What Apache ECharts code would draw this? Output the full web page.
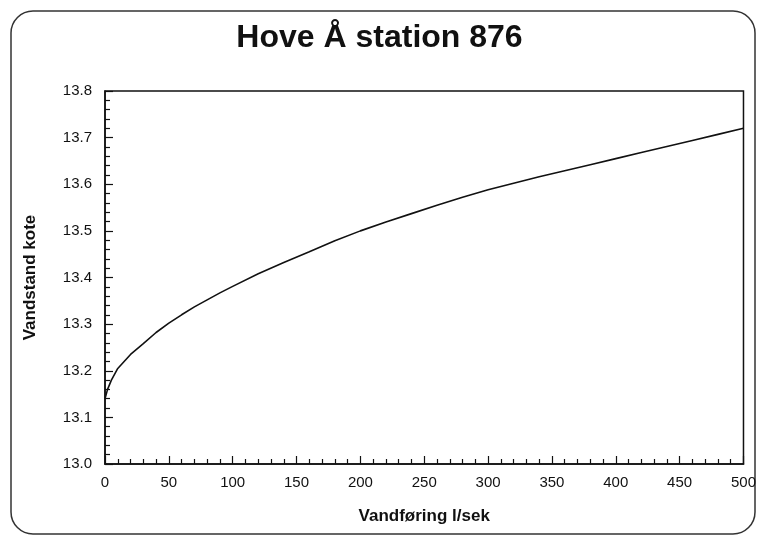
<!DOCTYPE html>
<html>
<head>
<meta charset="utf-8">
<script src="https://cdn.jsdelivr.net/npm/echarts@6/dist/echarts.min.js"></script>
<style>
  html, body { margin: 0; padding: 0; background: #fff; }
  #rating { width: 759px; height: 537px; }
</style>
</head>
<body>
<div id="rating"></div>
<script>
// Vandføring (l/sek) vs vandstand (kote)
var flow = [0, 2, 5, 10, 20, 30, 40, 50, 60, 70, 80, 90, 100, 120, 140, 160, 180, 200,
            220, 240, 260, 280, 300, 320, 340, 360, 380, 400, 420, 440, 460, 480, 500];
var level = [13.14, 13.16, 13.18, 13.205, 13.235, 13.258, 13.282, 13.302, 13.320, 13.337, 13.352, 13.367, 13.381,
             13.408, 13.432, 13.455, 13.479, 13.500, 13.519, 13.537, 13.555, 13.572, 13.588, 13.602,
             13.616, 13.629, 13.642, 13.655, 13.668, 13.681, 13.694, 13.707, 13.720];

var titleText = 'Hove Å station 876';
var xName = 'Vandføring l/sek';
var yName = 'Vandstand kote';

var chart = echarts.init(document.getElementById('rating'));

var points = flow.map(function(q, i) { return [q, level[i]]; });
var FONT = "'Liberation Sans', Arial, sans-serif";

var opts = {
    backgroundColor: '#fff',
    animation: false,
    textStyle: { fontFamily: FONT, color: '#111' },
    title: {
        text: titleText,
        left: 'center',
        top: 17,
        textStyle: {
            fontFamily: FONT,
            fontSize: 32,
            fontWeight: 'bold',
            color: '#111'
        }
    },
    graphic: [{
        type: 'rect',
        shape: { x: 11, y: 11, width: 744, height: 523, r: 22 },
        style: { fill: 'none', stroke: '#333', lineWidth: 1.5 },
        silent: true
    }],
    grid: {
        left: 105, right: 11, top: 91, bottom: 73,
        show: true, borderColor: '#111', borderWidth: 1.5
    },
    xAxis: {
        type: 'value',
        min: 0, max: 500, interval: 50,
        name: xName,
        nameLocation: 'middle',
        nameGap: 44,
        nameTextStyle: { fontSize: 17, fontWeight: 'bold', color: '#111' },
        axisLine: { show: true, lineStyle: { color: '#111', width: 1.5 } },
        axisTick: { show: true, inside: true, length: 8, lineStyle: { color: '#111', width: 1.2 } },
        minorTick: { show: true, splitNumber: 5, length: 5, lineStyle: { color: '#111', width: 1.2 } },
        axisLabel: { fontSize: 15, margin: 11, color: '#111' },
        splitLine: { show: false }
    },
    yAxis: {
        type: 'value',
        min: 13.0, max: 13.8, interval: 0.1,
        name: yName,
        nameLocation: 'middle',
        nameRotate: 90,
        nameGap: 66,
        nameTextStyle: { fontSize: 17, fontWeight: 'bold', color: '#111' },
        axisLine: { show: true, lineStyle: { color: '#111', width: 1.5 } },
        axisTick: { show: true, inside: true, length: 8, lineStyle: { color: '#111', width: 1.2 } },
        minorTick: { show: true, splitNumber: 5, length: 5, lineStyle: { color: '#111', width: 1.2 } },
        axisLabel: {
            fontSize: 15, margin: 13, color: '#111',
            formatter: function(v) { return v.toFixed(1); }
        },
        splitLine: { show: false }
    },
    series: [{
        type: 'line',
        data: points,
        smooth: false,
        showSymbol: false,
        lineStyle: { color: '#111', width: 1.6 }
    }]
};

chart.setOption(opts);
</script>
</body>
</html>
